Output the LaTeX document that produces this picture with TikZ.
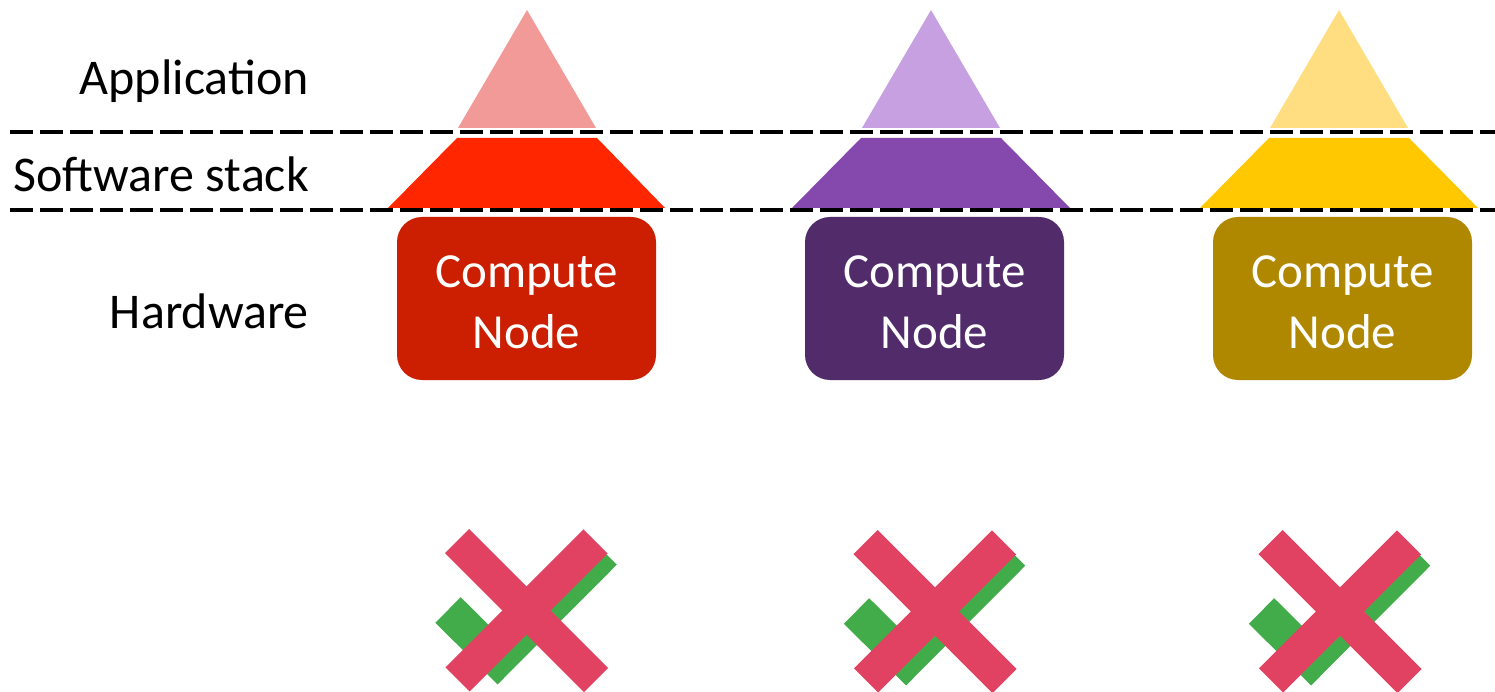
\documentclass[tikz,border=0pt]{standalone}
\usepackage{fontspec}
\setmainfont{Carlito}

\definecolor{redL}{HTML}{F19A97}
\definecolor{redM}{HTML}{FF2600}
\definecolor{redD}{HTML}{CC1E00}
\definecolor{purL}{HTML}{C6A0E1}
\definecolor{purM}{HTML}{8548AD}
\definecolor{purD}{HTML}{522B6B}
\definecolor{yelL}{HTML}{FEDE80}
\definecolor{yelM}{HTML}{FFC800}
\definecolor{yelD}{HTML}{AF8800}
\definecolor{crossred}{RGB}{226,66,98}
\definecolor{tickgreen}{RGB}{67,172,74}

\begin{document}
\begin{tikzpicture}[
		x=1pt, y=-1pt,
		lbl/.style	= {anchor=base east, inner sep=0, font=\fontsize{50}{60}\selectfont},
		cn/.style	= {rectangle, rounded corners=25, minimum width=259, minimum height=163, inner sep=0},
		cnt/.style	= {align=center, text=white, inner sep=0, font=\fontsize{49}{61}\selectfont},
		dl/.style	= {line width=3.5, dash pattern=on 23 off 7},
		tick/.style	= {tickgreen, line width=36, miter limit=4},
		bar/.style	= {crossred, line width=34}
		]

		\useasboundingbox (0,0) rectangle (1495,692);

		% layer labels
		\node[lbl]	(app)	at	(309, 95)	{Application};
		\node[lbl]	(sw)	at	(309, 192)	{Software stack};
		\node[lbl]	(hw)	at	(309, 328)	{Hardware};

		% layer borders
		\draw[dl]	(10, 132)	--	(1495, 132);
		\draw[dl]	(10, 210)	--	(1495, 210);

		% red stack
		\fill[redL]	(458, 128)	--	(527, 10)	--	(596, 128)	--	cycle;
		\fill[redM]	(388, 208)	--	(457, 138)	--	(597, 138)	--	(665, 208)	--	cycle;
		\node[cn, fill=redD]	(cn1)	at	(526.5, 298.5)	{};
		\node[cnt]	(cn1t)	at	([yshift=-4]cn1.center)	{Compute\\Node};

		% purple stack
		\fill[purL]	(862, 128)	--	(931, 10)	--	(1000, 128)	--	cycle;
		\fill[purM]	(792, 208)	--	(861, 138)	--	(1001, 138)	--	(1070, 208)	--	cycle;
		\node[cn, fill=purD]	(cn2)	at	(934.5, 298.5)	{};
		\node[cnt]	(cn2t)	at	([yshift=-4]cn2.center)	{Compute\\Node};

		% yellow stack
		\fill[yelL]	(1270, 128)	--	(1339, 10)	--	(1408, 128)	--	cycle;
		\fill[yelM]	(1200, 208)	--	(1269, 138)	--	(1409, 138)	--	(1478, 208)	--	cycle;
		\node[cn, fill=yelD]	(cn3)	at	(1342.5, 298.5)	{};
		\node[cnt]	(cn3t)	at	([yshift=-4]cn3.center)	{Compute\\Node};

		% crossed-out ticks
		\begin{scope}[shift={(526.5, 611)}]
			\draw[tick]	(-78.5, -1)	--	(-29, 48)	--	(77.5, -59);
			\draw[bar]	(-69.5, -70)	--	(69.5, 69);
			\draw[bar]	(-69, 68.5)	--	(69, -69.5);
		\end{scope}
		\begin{scope}[shift={(935, 612)}]
			\draw[tick]	(-78.5, -1)	--	(-29, 48)	--	(77.5, -59);
			\draw[bar]	(-69.5, -70)	--	(69.5, 69);
			\draw[bar]	(-69, 68.5)	--	(69, -69.5);
		\end{scope}
		\begin{scope}[shift={(1340, 612)}]
			\draw[tick]	(-78.5, -1)	--	(-29, 48)	--	(77.5, -59);
			\draw[bar]	(-69.5, -70)	--	(69.5, 69);
			\draw[bar]	(-69, 68.5)	--	(69, -69.5);
		\end{scope}
\end{tikzpicture}
\end{document}
